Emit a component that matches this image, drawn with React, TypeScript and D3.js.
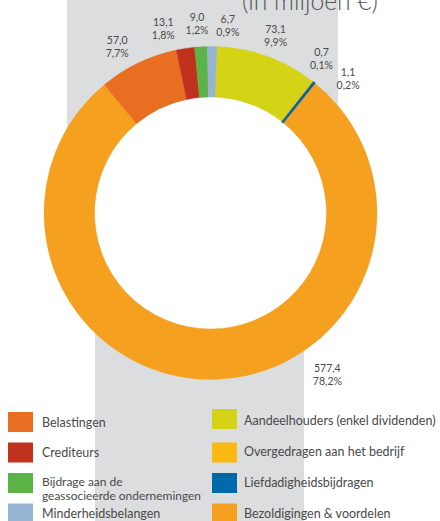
import React from "react";
import * as d3 from "d3";

const categories = [
  "Aandeelhouders (enkel dividenden)",
  "Overgedragen aan het bedrijf",
  "Liefdadigheidsbijdragen",
  "Bezoldigingen & voordelen",
  "Belastingen",
  "Crediteurs",
  "Bijdrage aan de geassocieerde ondernemingen",
  "Minderheidsbelangen",
];
const values = [73.1, 0.7, 1.1, 577.4, 57.0, 13.1, 9.0, 6.7];
const valueLabels = ["73,1", "0,7", "1,1", "577,4", "57,0", "13,1", "9,0", "6,7"];
const percentLabels = ["9,9%", "0,1%", "0,2%", "78,2%", "7,7%", "1,8%", "1,2%", "0,9%"];
const colors = ["#D4D316", "#FBBA12", "#0069AA", "#F5A01E", "#E86E22", "#C0311E", "#5DB446", "#96B3D3"];

// legend order (left column then right column)
const legendLeft = [
  { idx: 4, lines: ["Belastingen"] },
  { idx: 5, lines: ["Crediteurs"] },
  { idx: 6, lines: ["Bijdrage aan de", "geassocieerde ondernemingen"] },
  { idx: 7, lines: ["Minderheidsbelangen"] },
];
const legendRight = [
  { idx: 0, lines: ["Aandeelhouders (enkel dividenden)"] },
  { idx: 1, lines: ["Overgedragen aan het bedrijf"] },
  { idx: 2, lines: ["Liefdadigheidsbijdragen"] },
  { idx: 3, lines: ["Bezoldigingen & voordelen"] },
];

// label angle nudges (degrees) and radii for readability
const labelNudge = [0, -2.5, 7, -35.5, -3.5, -5.7, -0.8, 4.7];
const labelRadius = [190, 191, 193, 199, 191, 190.5, 190, 189];

export default function App() {
  const W = 440;
  const H = 521;
  const cx = 210.5;
  const cy = 213;
  const outerR = 166.5;
  const innerR = 116;
  const offset = (2.2 * Math.PI) / 180;

  const pie = d3
    .pie<number>()
    .sort(null)
    .value((d) => d)
    .startAngle(offset)
    .endAngle(offset + 2 * Math.PI);
  const arcs = pie(values);
  const arc = d3.arc<d3.PieArcDatum<number>>().innerRadius(innerR).outerRadius(outerR);

  const font = "Lato, 'Open Sans', sans-serif";
  const textColor = "#4a4a4a";
  const order = arcs.map((_, i) => i).sort((a, b) => (values[b] < 2 ? 0 : 1) - (values[a] < 2 ? 0 : 1) || a - b);

  return (
    <svg
      width={W}
      height={H}
      style={{ position: "absolute", left: 0, top: 0 }}
      viewBox={`0 0 ${W} ${H}`}
    >
      <rect x={0} y={0} width={W} height={H} fill="#ffffff" />
      <rect x={67} y={0} width={271} height={cy} fill="#DCDDDF" />
      <rect x={95} y={cy} width={209} height={H - cy} fill="#DCDDDF" />
      <text
        x={242}
        y={10}
        fontFamily={font}
        fontSize={25}
        fontWeight={300}
        fill="#555"
        textLength={136}
        lengthAdjust="spacingAndGlyphs"
      >
        (in miljoen €)
      </text>
      <g transform={`translate(${cx},${cy})`}>
        <circle r={innerR} fill="#ffffff" />
        {order.map((i) => (
          <path
            key={i}
            d={arc(arcs[i]) || ""}
            fill={colors[i]}
            stroke={colors[i]}
            strokeWidth={values[i] < 2 ? 1.4 : 0.4}
          />
        ))}
        {arcs.map((a, i) => {
          const mid = (a.startAngle + a.endAngle) / 2 + (labelNudge[i] * Math.PI) / 180;
          const r = labelRadius[i];
          const x = r * Math.sin(mid);
          const y = -r * Math.cos(mid);
          return (
            <text
              key={"l" + i}
              x={x}
              y={y}
              textAnchor="middle"
              fontFamily={font}
              fontSize={10.5}
              fill={textColor}
            >
              <tspan x={x} dy={-2}>
                {valueLabels[i]}
              </tspan>
              <tspan x={x} dy={13}>
                {percentLabels[i]}
              </tspan>
            </text>
          );
        })}
      </g>
      {[legendLeft, legendRight].map((col, c) =>
        col.map((item, j) => {
          const sx = c === 0 ? 8 : 212;
          const tx = c === 0 ? 42 : 244;
          const sy = 412 + j * 30.5 - (c === 1 && j === 0 ? 3 : 0);
          const ty = c === 0 ? 422 + j * 30.5 : 420 + j * 31;
          const multi = item.lines.length > 1;
          return (
            <g key={c + "-" + j}>
              <rect x={sx} y={sy} width={25} height={20} fill={colors[item.idx]} />
              {item.lines.map((ln, k) => (
                <text
                  key={k}
                  x={tx}
                  y={ty + (multi ? k * 13.5 - 1.5 : 0)}
                  dominantBaseline="central"
                  fontFamily={font}
                  fontSize={multi ? 12 : 12.5}
                  fill={textColor}
                  textLength={ln === "geassocieerde ondernemingen" ? 159 : undefined}
                  lengthAdjust="spacingAndGlyphs"
                >
                  {ln}
                </text>
              ))}
            </g>
          );
        })
      )}
    </svg>
  );
}
